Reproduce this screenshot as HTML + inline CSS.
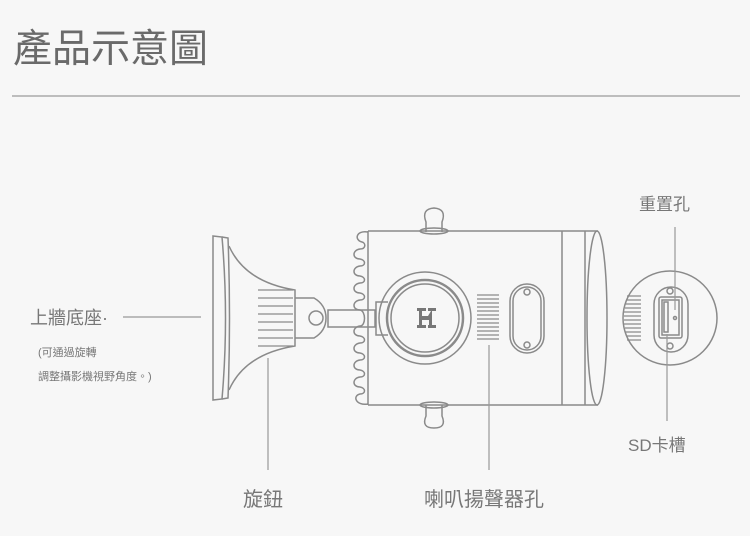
<!DOCTYPE html>
<html><head><meta charset="utf-8"><style>
body{margin:0;width:750px;height:536px;background:#f7f7f7;overflow:hidden;font-family:"Liberation Sans","Noto Sans CJK TC",sans-serif;}
svg{position:absolute;left:0;top:0}
</style></head><body>
<svg width="750" height="536" viewBox="0 0 750 536" xmlns="http://www.w3.org/2000/svg" font-family="Liberation Sans, Noto Sans CJK TC, sans-serif">
<text x="13" y="62" font-size="39" fill="#6a6a6a">產品示意圖</text>
<line x1="12" y1="96" x2="740" y2="96" stroke="#aaa" stroke-width="1.5"/>
<g fill="none" stroke="#8a8a8a" stroke-width="1.5">
<path d="M213 236 L222 237 Q229 318 222 399 L213 400 Z"/>
<path d="M222 237 L228 238 Q231 318 228 398 L222 399"/>
<path d="M229 246 Q245 282 295 290 L295 346 Q245 354 229 390"/>
<g stroke-width="1.3">
<path d="M258 290 H293 M258 298 H293 M258 306 H293 M258 314 H293 M258 322 H293 M258 330 H293 M258 338 H293 M258 346 H293"/>
</g>
<path d="M295 298 H314 Q326 305 326 318 Q326 331 314 338 H295"/>
<circle cx="316" cy="318" r="7"/>
<rect x="328" y="310" width="47" height="17"/>
<path d="M368 231 H598 M368 405 H598 M368 231 V405 M562 231 V405 M585 231 V405"/>
<path d="M368 232 C356 230 354 240 362 242 C366 243 366 249 360 249 C352 250 352 259 360 259 C366 260 366 266 360 266 C352 267 352 276 360 276 C366 277 366 283 360 283 C352 284 352 293 360 293 C366 294 366 300 360 300 C352 301 352 310 360 310 C366 311 366 326 360 326 C352 327 352 336 360 336 C366 337 366 343 360 343 C352 344 352 353 360 353 C366 354 366 360 360 360 C352 361 352 370 360 370 C366 371 366 377 360 377 C352 378 352 387 360 387 C366 388 366 394 360 394 C352 396 356 406 368 404"/>
<ellipse cx="597" cy="318" rx="10" ry="87"/>
<path d="M426 232 V222 Q421 209 434 208 Q447 209 442 222 V232"/>
<ellipse cx="434" cy="231" rx="14" ry="3"/>
<path d="M426 405 V416 Q421 428 434 428 Q447 428 442 416 V405"/>
<ellipse cx="434" cy="405" rx="14" ry="3"/>
<circle cx="425" cy="318" r="46"/>
<circle cx="425" cy="318" r="38" stroke-width="2.5"/>
<circle cx="425" cy="318" r="34"/>
<path d="M388 302 H376 V335 H388"/>
<g stroke-width="1.3">
<path d="M477 295 H499 M477 299 H499 M477 303 H499 M477 307 H499 M477 311 H499 M477 315 H499 M477 319 H499 M477 323 H499 M477 327 H499 M477 331 H499 M477 335 H499 M477 339 H499"/>
</g>
<rect x="510" y="284" width="34" height="69" rx="17"/>
<rect x="513" y="287" width="28" height="63" rx="14"/>
<circle cx="527" cy="292" r="3"/><circle cx="527" cy="345" r="3"/>
<circle cx="670" cy="318" r="47"/>
<g stroke-width="1.3"><path d="M627 296 H641 M626 300 H641 M625 304 H641 M625 308 H641 M624 312 H641 M624 316 H641 M624 320 H641 M624 324 H641 M625 328 H641 M625 332 H641 M626 336 H641 M627 340 H641"/></g>
<rect x="654" y="287" width="34" height="65" rx="17"/>
<rect x="659" y="297" width="23" height="41" rx="2"/>
<rect x="662" y="300" width="17" height="35"/>
<rect x="664" y="302" width="4" height="30"/>
<circle cx="670" cy="291" r="3"/><circle cx="670" cy="346" r="3"/><circle cx="675" cy="318" r="1.5"/>
</g>
<path d="M417 308 H426 V311 H422 V316 H428 L431 311 H428 V308 H436 V311 H432 V325 H436 V328 H428 V325 H429 V320 H422 V325 H426 V328 H417 V325 H419 V311 H417 Z" fill="#777" stroke="none"/>
<g stroke="#999" stroke-width="1.2">
<line x1="123" y1="317" x2="201" y2="317"/>
<line x1="268" y1="358" x2="268" y2="470"/>
<line x1="489" y1="345" x2="489" y2="470"/>
<line x1="675" y1="227" x2="675" y2="310"/>
<line x1="667" y1="334" x2="667" y2="421"/>
</g>
<g fill="#777">
<text x="30" y="324" font-size="18">上牆底座·</text>
<text x="38" y="356" font-size="11">(可通過旋轉</text>
<text x="38" y="380" font-size="11">調整攝影機視野角度。)</text>
<text x="243" y="506" font-size="20">旋鈕</text>
<text x="424" y="506" font-size="20">喇叭揚聲器孔</text>
<text x="639" y="210" font-size="17">重置孔</text>
<text x="628" y="451" font-size="17">SD卡槽</text>
</g>
</svg>
</body></html>
